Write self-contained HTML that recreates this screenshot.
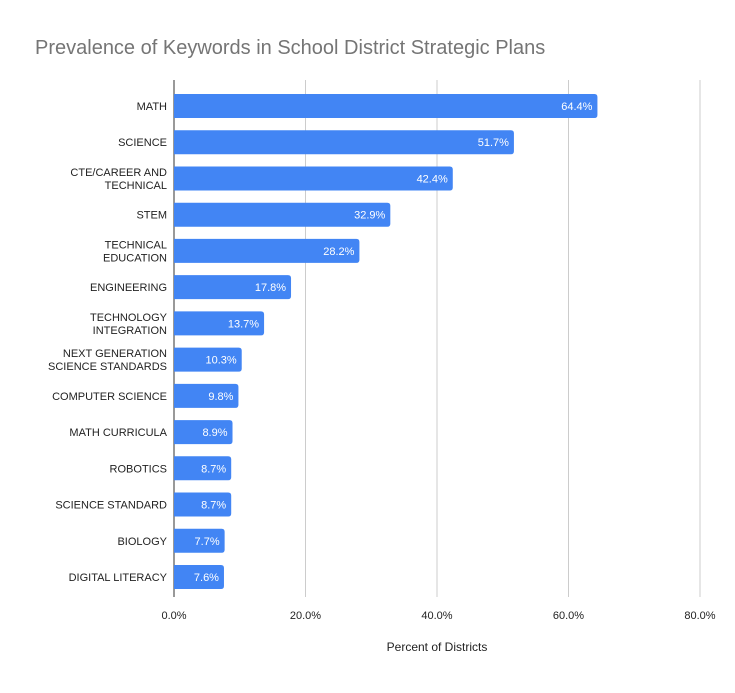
<!DOCTYPE html>
<html><head><meta charset="utf-8"><style>
body{margin:0;background:#fff;}
svg text{font-family:"Liberation Sans",Arial,sans-serif;}
</style></head><body>
<svg id="chart" width="735" height="688" viewBox="0 0 735 688">
<rect width="735" height="688" fill="#fff"/>
<text x="35" y="54" font-size="20" fill="#757575">Prevalence of Keywords in School District Strategic Plans</text>
<g id="grid"></g><g id="bars"></g><g id="labels"></g><g id="ticks"></g>
<text x="437" y="651" font-size="12" fill="#222" text-anchor="middle">Percent of Districts</text>
</svg>
<script>
const categories=[["MATH"],["SCIENCE"],["CTE/CAREER AND","TECHNICAL"],["STEM"],["TECHNICAL","EDUCATION"],["ENGINEERING"],["TECHNOLOGY","INTEGRATION"],["NEXT GENERATION","SCIENCE STANDARDS"],["COMPUTER SCIENCE"],["MATH CURRICULA"],["ROBOTICS"],["SCIENCE STANDARD"],["BIOLOGY"],["DIGITAL LITERACY"]];
const values=[64.4,51.7,42.4,32.9,28.2,17.8,13.7,10.3,9.8,8.9,8.7,8.7,7.7,7.6];
const tickValues=[0,20,40,60,80];
const tickLabels=["0.0%","20.0%","40.0%","60.0%","80.0%"];
const NS="http://www.w3.org/2000/svg";
const x0=174,pxPer=(700-174)/80;
const xs=v=>x0+v*pxPer;
const y0=106,step=(577-106)/13;
const ys=i=>y0+i*step;
function mk(tag,attrs,parent){const e=document.createElementNS(NS,tag);for(const k in attrs)e.setAttribute(k,attrs[k]);document.getElementById(parent).appendChild(e);return e;}
tickValues.forEach((t,i)=>{
  const l=mk("line",{x1:xs(t),x2:xs(t),y1:80,y2:597,stroke:i==0?"#333":"#ccc","stroke-width":1},"grid");
  
  
  const tx=mk("text",{x:xs(t),y:619,"font-size":11,fill:"#222","text-anchor":"middle"},"ticks");
  tx.textContent=tickLabels[i];
  
  
});
values.forEach((v,i)=>{
  const y=ys(i);
  const r=mk("path",{d:`M${x0},${y-12}H${xs(v)-3}Q${xs(v)},${y-12} ${xs(v)},${y-9}V${y+9}Q${xs(v)},${y+12} ${xs(v)-3},${y+12}H${x0}Z`,fill:"#4285f4"},"bars");
  
  
  const vl=mk("text",{x:xs(v)-5,y:y+4,"font-size":11,fill:"#fff","text-anchor":"end"},"bars");
  vl.textContent=v.toFixed(1)+"%";
  
  
  const lines=categories[i];
  const cl=mk("text",{x:167,"font-size":11,fill:"#222","text-anchor":"end"},"labels");
  
  
  lines.forEach((s,j)=>{const ts=document.createElementNS(NS,"tspan");ts.setAttribute("x",167);ts.setAttribute("y",y+4+(j-(lines.length-1)/2)*13);ts.textContent=s;cl.appendChild(ts);});
});
</script>
</body></html>
